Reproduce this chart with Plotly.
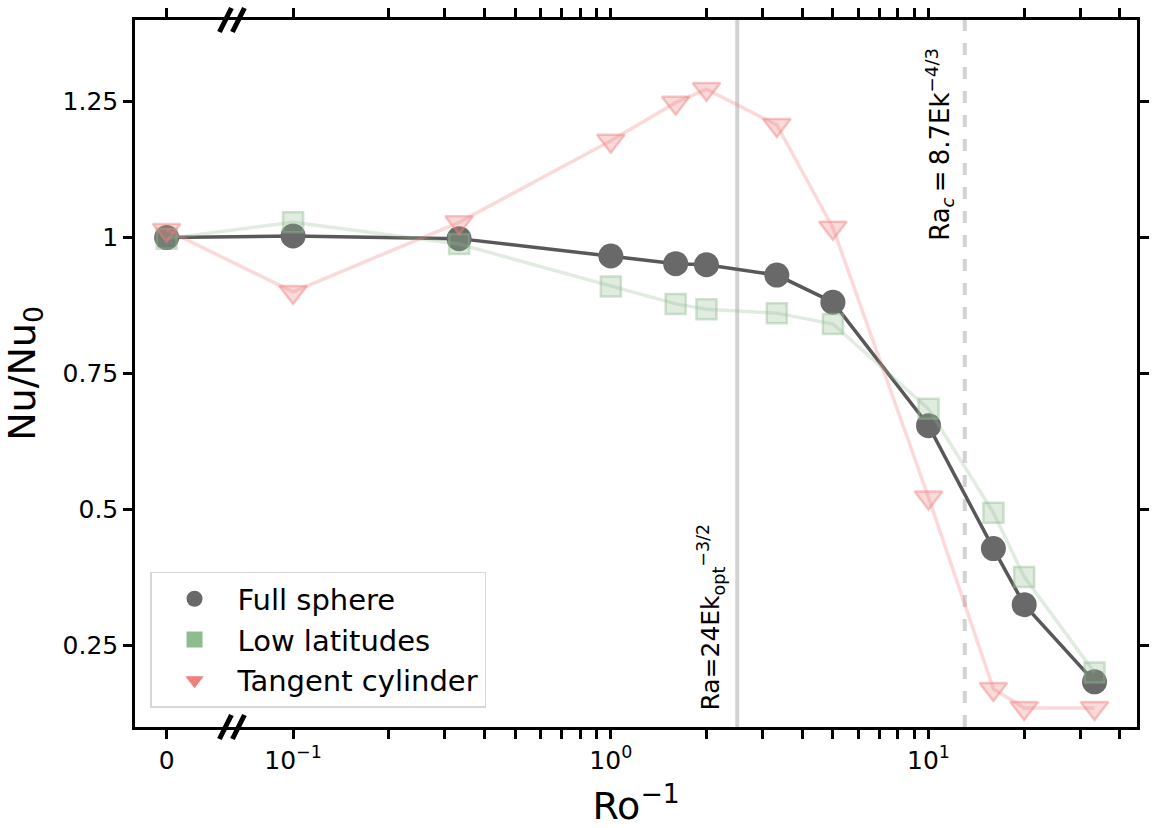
import numpy as np
import plotly.graph_objects as go

# ---------------- data ----------------
ro_inv = [0, 0.1, 0.333, 1, 1.6, 2, 3.33, 5, 10, 16, 20, 33.3]
ZERO_POS = 0.04  # where Ro^-1 = 0 is drawn on the broken log axis

full_sphere = [1.000, 1.003, 0.998, 0.966, 0.952, 0.950, 0.931, 0.881, 0.654, 0.428, 0.325, 0.183]
low_latitudes = [0.998, 1.028, 0.988, 0.910, 0.878, 0.868, 0.861, 0.841, 0.685, 0.494, 0.376, 0.200]
tangent_cylinder = [1.014, 0.900, 1.028, 1.178, 1.248, 1.273, 1.207, 1.018, 0.522, 0.170, 0.135, 0.135]

ra_opt_x = 2.5   # Ra = 24 Ek_opt^{-3/2}
ra_c_x = 13.0    # Ra_c = 8.7 Ek^{-4/3}

x_tickvals = [0.04, 0.1, 0.2, 0.3, 0.4, 0.5, 0.6, 0.7, 0.8, 0.9,
              1, 2, 3, 4, 5, 6, 7, 8, 9, 10, 20, 30, 40]
x_ticktext = ["0", "10<sup>−1</sup>", "", "", "", "", "", "", "", "",
              "10<sup>0</sup>", "", "", "", "", "", "", "", "", "10<sup>1</sup>", "", "", ""]
y_tickvals = [0.25, 0.5, 0.75, 1.0, 1.25]
y_ticktext = ["0.25", "0.5", "0.75", "1", "1.25"]

x_plot = [ZERO_POS if v == 0 else v for v in ro_inv]

FONT = "DejaVu Sans"
GREY = "rgb(105,105,105)"
GREEN = (143, 188, 143)
CORAL = (240, 128, 128)


def rgba(c, a):
    return f"rgba({c[0]},{c[1]},{c[2]},{a})"


fig = go.Figure()

fig.add_trace(go.Scatter(
    x=x_plot, y=full_sphere, mode="lines+markers", showlegend=False,
    line=dict(color="rgb(88,88,88)", width=3.5),
    marker=dict(symbol="circle", size=25, color=GREY, line=dict(width=0)),
))
fig.add_trace(go.Scatter(
    x=x_plot, y=low_latitudes, mode="lines+markers", showlegend=False,
    line=dict(color=rgba(GREEN, 0.28), width=3.5),
    marker=dict(symbol="square", size=20, color=rgba(GREEN, 0.28),
                line=dict(color=rgba(GREEN, 0.42), width=2.5)),
))
fig.add_trace(go.Scatter(
    x=x_plot, y=tangent_cylinder, mode="lines+markers", showlegend=False,
    line=dict(color=rgba(CORAL, 0.3), width=3.5),
    marker=dict(symbol="triangle-down", size=24, color=rgba(CORAL, 0.3),
                line=dict(color=rgba(CORAL, 0.45), width=2.5)),
))

# legend entries (solid markers as in the reference legend)
for name, sym, col in [("Full sphere", "circle", GREY),
                       ("Low latitudes", "square", rgba(GREEN, 1)),
                       ("Tangent cylinder", "triangle-down", rgba(CORAL, 1))]:
    fig.add_trace(go.Scatter(x=[None], y=[None], mode="markers", name=name,
                             marker=dict(symbol=sym, size=16, color=col)))

# vertical reference lines
fig.add_vline(x=ra_opt_x, line=dict(color="rgb(210,210,210)", width=4), layer="below")
fig.add_vline(x=ra_c_x, line=dict(color="rgb(210,210,210)", width=4, dash="dash"), layer="below")

fig.add_annotation(x=np.log10(ra_opt_x), y=0.126, xref="x", yref="y",
                   text="Ra=24Ek<sub>opt</sub><sup>−3/2</sup>", textangle=-90,
                   showarrow=False, xanchor="right", yanchor="bottom", xshift=-6,
                   font=dict(family=FONT, size=25, color="black"))
fig.add_annotation(x=np.log10(ra_c_x), y=1.352, xref="x", yref="y",
                   text="Ra<sub><i>c</i></sub>\u2009=\u20098.7Ek<sup>−4/3</sup>", textangle=-90,
                   showarrow=False, xanchor="right", yanchor="top", xshift=-5,
                   font=dict(family=FONT, size=26, color="black"))

# axis-break marks "//" on bottom and top spines
L, R, T, B = 135, 1137.5, 20, 727
W, H = R - L, B - T
for ypx in (B, T):
    for cx in (225.5, 238.5):
        fig.add_shape(type="line", xref="paper", yref="paper",
                      x0=(cx - 6 - L) / W, x1=(cx + 6 - L) / W,
                      y0=(B - (ypx + 12)) / H, y1=(B - (ypx - 12)) / H,
                      line=dict(color="black", width=5))

axis_common = dict(showline=True, linewidth=2.5, linecolor="black", mirror="allticks",
                   ticks="outside", ticklen=9, tickwidth=2.5, tickcolor="black",
                   showgrid=False, zeroline=False,
                   tickfont=dict(family=FONT, size=25, color="black"))

fig.update_layout(
    width=1153, height=828,
    margin=dict(l=L, r=1153 - R, t=T, b=828 - B, autoexpand=False),
    paper_bgcolor="white", plot_bgcolor="white",
    font=dict(family=FONT, color="black"),
    xaxis=dict(type="log", range=[np.log10(0.0318), np.log10(45.3)],
               tickmode="array", tickvals=x_tickvals, ticktext=x_ticktext,
               title=dict(text="Ro<sup>−1</sup>", font=dict(size=38), standoff=20),
               **axis_common),
    yaxis=dict(range=[0.1, 1.4], tickmode="array", tickvals=y_tickvals, ticktext=y_ticktext,
               title=dict(text="Nu/Nu<sub>0</sub>", font=dict(size=38), standoff=16),
               **axis_common),
    legend=dict(x=0.015, y=0.027, xanchor="left", yanchor="bottom",
                bgcolor="white", bordercolor="rgb(215,215,215)", borderwidth=1.5,
                font=dict(family=FONT, size=29, color="black"),
                itemwidth=76, tracegroupgap=0),
)

fig.write_html("out.html")
